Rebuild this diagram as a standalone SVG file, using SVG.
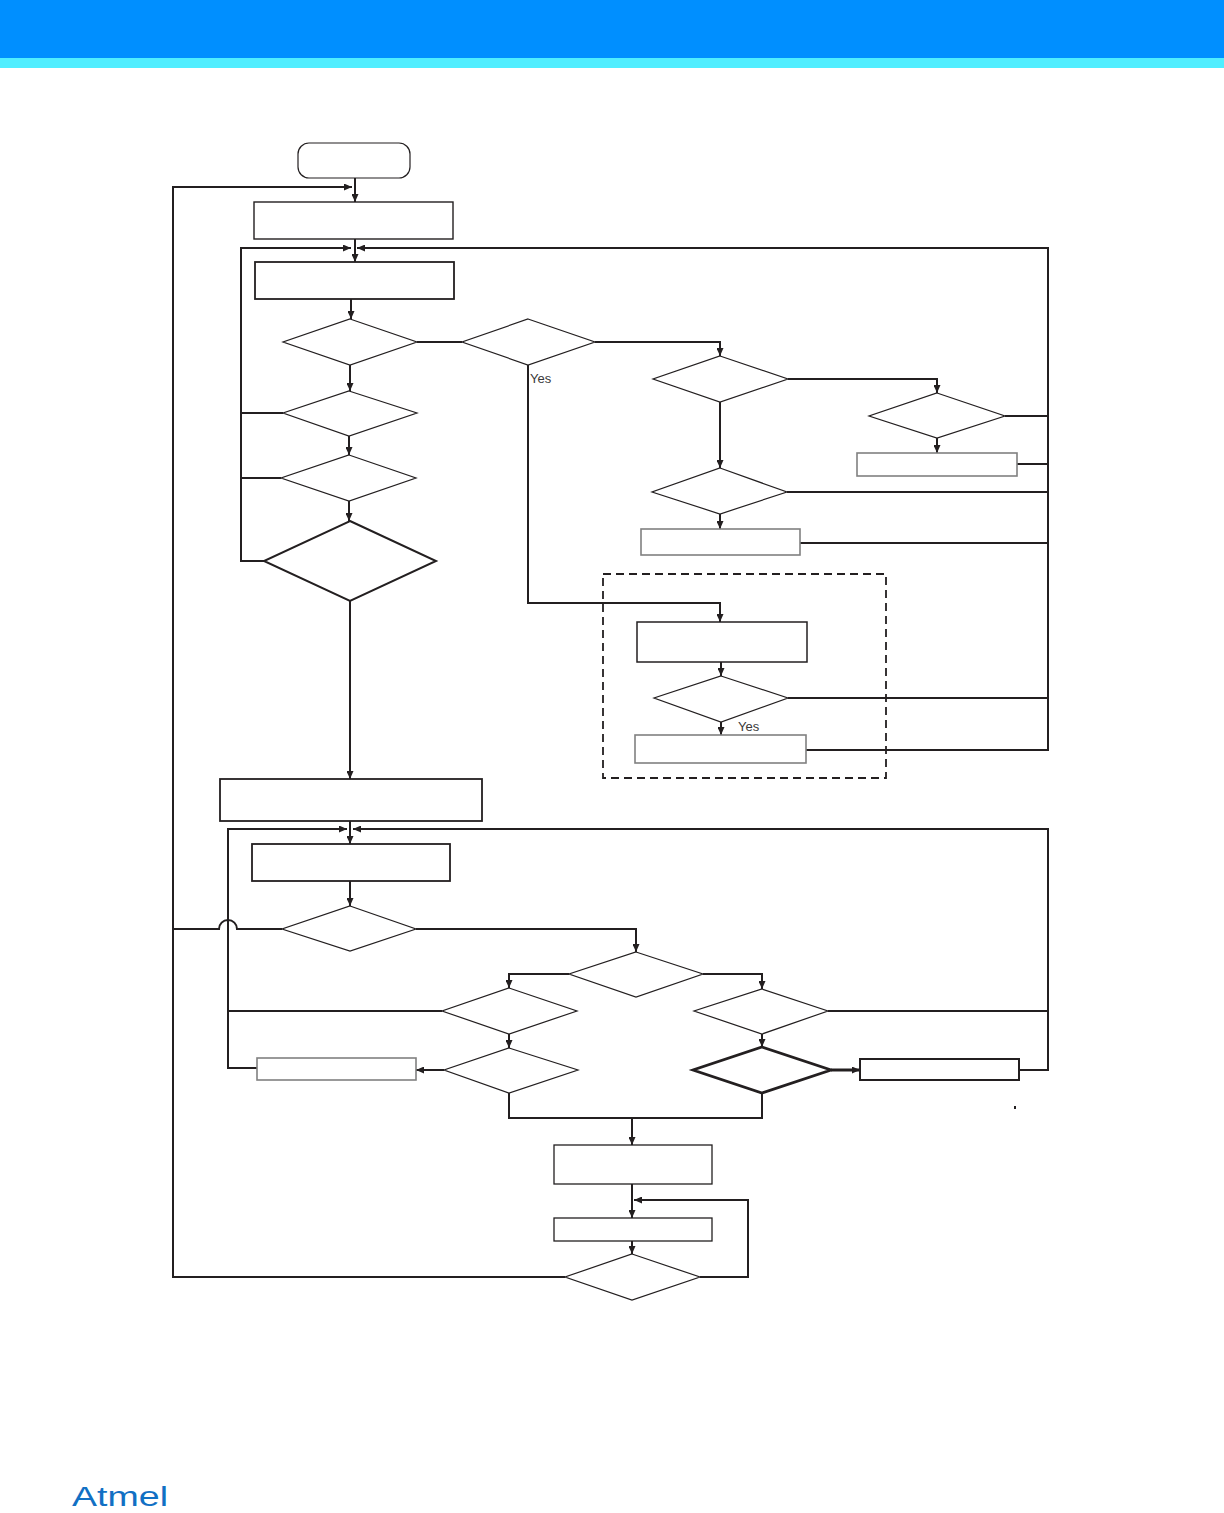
<svg xmlns="http://www.w3.org/2000/svg" width="1224" height="1513" viewBox="0 0 1224 1513">
<style>
.c{fill:none;stroke:#231f20;stroke-width:2}
.ca{fill:none;stroke:#231f20;stroke-width:2;marker-end:url(#ah)}
.b{fill:#fff;stroke:#231f20;stroke-width:1.8}
.g{fill:#fff;stroke:#808080;stroke-width:1.6}
.d{fill:#fff;stroke:#231f20;stroke-width:1.2}
.t{font-family:"Liberation Sans",Arial,sans-serif;font-size:13px;fill:#3a3a3a}
</style>
<defs>
<marker id="ah" markerWidth="8" markerHeight="7" refX="8" refY="3.5" orient="auto" markerUnits="userSpaceOnUse">
<path d="M0,0 L8,3.5 L0,7 z" fill="#231f20"/>
</marker>
</defs>
<rect x="0" y="0" width="1224" height="58" fill="#008fff"/>
<rect x="0" y="58" width="1224" height="10" fill="#50eeff"/>
<g id="connectors">
<path class="ca" d="M355,178 V202"/>
<path class="ca" d="M565,1277 H173 V187 H352"/>
<path class="ca" d="M355,239 V262"/>
<path class="ca" d="M264,561 H241 V248 H351"/>
<path class="c" d="M283,413 H241"/>
<path class="c" d="M281,478 H241"/>
<path class="c" d="M1005,416 H1048"/>
<path class="c" d="M1017,464 H1048"/>
<path class="c" d="M787,492 H1048"/>
<path class="c" d="M800,543 H1048"/>
<path class="c" d="M788,698 H1048"/>
<path class="ca" d="M806,750 H1048 V248 H357"/>
<path class="ca" d="M351,299 V319"/>
<path class="c" d="M417,342 H462"/>
<path class="ca" d="M595,342 H720 V356"/>
<path class="ca" d="M788,379 H937 V393"/>
<path class="ca" d="M937,438 V453"/>
<path class="ca" d="M720,402 V468"/>
<path class="ca" d="M720,514 V529"/>
<path class="ca" d="M528,365 V603 H720 V622"/>
<path class="ca" d="M721,662 V676"/>
<path class="ca" d="M721,722 V735"/>
<path class="ca" d="M350,365 V391"/>
<path class="ca" d="M349,436 V455"/>
<path class="ca" d="M349,501 V521"/>
<path class="ca" d="M350,601 V779"/>
<path class="ca" d="M350,821 V844"/>
<path class="ca" d="M257,1068 H228 V829 H347"/>
<path class="c" d="M442,1011 H228"/>
<path class="ca" d="M1019,1070 H1048 V829 H353"/>
<path class="c" d="M828,1011 H1048"/>
<path class="ca" d="M350,881 V906"/>
<path class="c" d="M282,929 H237 A9,9 0 0 0 219,929 H173"/>
<path class="ca" d="M416,929 H636 V952"/>
<path class="ca" d="M569,974 H509 V988"/>
<path class="ca" d="M703,974 H762 V989"/>
<path class="ca" d="M509,1034 V1048"/>
<path class="ca" d="M444,1070 H416"/>
<path class="ca" d="M762,1034 V1047"/>
<path class="ca" d="M831,1070 H860" style="stroke-width:3"/>
<path class="c" d="M509,1093 V1118 H762 V1093"/>
<path class="ca" d="M632,1118 V1145"/>
<path class="ca" d="M632,1184 V1218"/>
<path class="ca" d="M632,1241 V1254"/>
<path class="ca" d="M700,1277 H748 V1200 H634"/>
</g>
<g id="n-start"><rect class="b" x="298" y="143" width="112" height="35" rx="11" style="stroke-width:1.2"/></g>
<g id="n-box1"><rect class="b" x="254" y="202" width="199" height="37" style="stroke-width:1.4"/></g>
<g id="n-box2"><rect class="b" x="255" y="262" width="199" height="37"/></g>
<g id="n-d1"><polygon class="d" points="350,319 417,342 350,365 283,342"/></g>
<g id="n-d2"><polygon class="d" points="528,319 595,342 528,365 462,342"/><text class="t" x="530" y="383">Yes</text></g>
<g id="n-d3"><polygon class="d" points="349,391 417,413 349,436 283,413"/></g>
<g id="n-d4"><polygon class="d" points="349,455 416,478 349,501 281,478"/></g>
<g id="n-d5"><polygon class="d" points="350,521 436,561 350,601 264,561" style="stroke-width:2"/></g>
<g id="n-d6"><polygon class="d" points="720,356 788,379 720,402 653,379"/></g>
<g id="n-d7"><polygon class="d" points="937,393 1005,416 937,438 869,416"/></g>
<g id="n-b4"><rect class="g" x="857" y="453" width="160" height="23"/></g>
<g id="n-d8"><polygon class="d" points="720,468 787,492 720,514 652,492"/></g>
<g id="n-b5"><rect class="g" x="641" y="529" width="159" height="26"/></g>
<g id="n-group"><rect x="603" y="574" width="283" height="204" fill="none" stroke="#231f20" stroke-width="1.8" stroke-dasharray="8,5"/></g>
<g id="n-b6"><rect class="b" x="637" y="622" width="170" height="40" style="stroke-width:1.5"/></g>
<g id="n-d9"><polygon class="d" points="721,676 788,698 721,722 654,698"/><text class="t" x="738" y="731">Yes</text></g>
<g id="n-b7"><rect class="g" x="635" y="735" width="171" height="28"/></g>
<g id="n-box3"><rect class="b" x="220" y="779" width="262" height="42"/></g>
<g id="n-box4"><rect class="b" x="252" y="844" width="198" height="37"/></g>
<g id="n-d10"><polygon class="d" points="350,906 416,929 350,951 282,929"/></g>
<g id="n-d11"><polygon class="d" points="636,952 703,974 636,997 569,974"/></g>
<g id="n-d12"><polygon class="d" points="509,988 577,1011 509,1034 442,1011"/></g>
<g id="n-d13"><polygon class="d" points="762,989 828,1011 762,1034 694,1011"/></g>
<g id="n-d14"><polygon class="d" points="509,1048 578,1070 509,1093 444,1070"/></g>
<g id="n-b8"><rect class="g" x="257" y="1058" width="159" height="22"/></g>
<g id="n-d15"><polygon class="d" points="762,1047 831,1070 762,1093 693,1070" style="stroke-width:2.8"/></g>
<g id="n-b9"><rect class="b" x="860" y="1059" width="159" height="21" style="stroke-width:2"/></g>
<g id="n-b10"><rect class="b" x="554" y="1145" width="158" height="39" style="stroke-width:1.3"/></g>
<g id="n-b11"><rect class="b" x="554" y="1218" width="158" height="23" style="stroke-width:1.3"/></g>
<g id="n-d16"><polygon class="d" points="632,1254 700,1277 632,1300 565,1277"/></g>
<rect x="1014" y="1106" width="2" height="3" fill="#231f20"/>
<text x="72" y="1506" font-family="Liberation Sans, Arial, sans-serif" font-size="27" fill="#1170c4" textLength="96" lengthAdjust="spacingAndGlyphs">Atmel</text>
</svg>
